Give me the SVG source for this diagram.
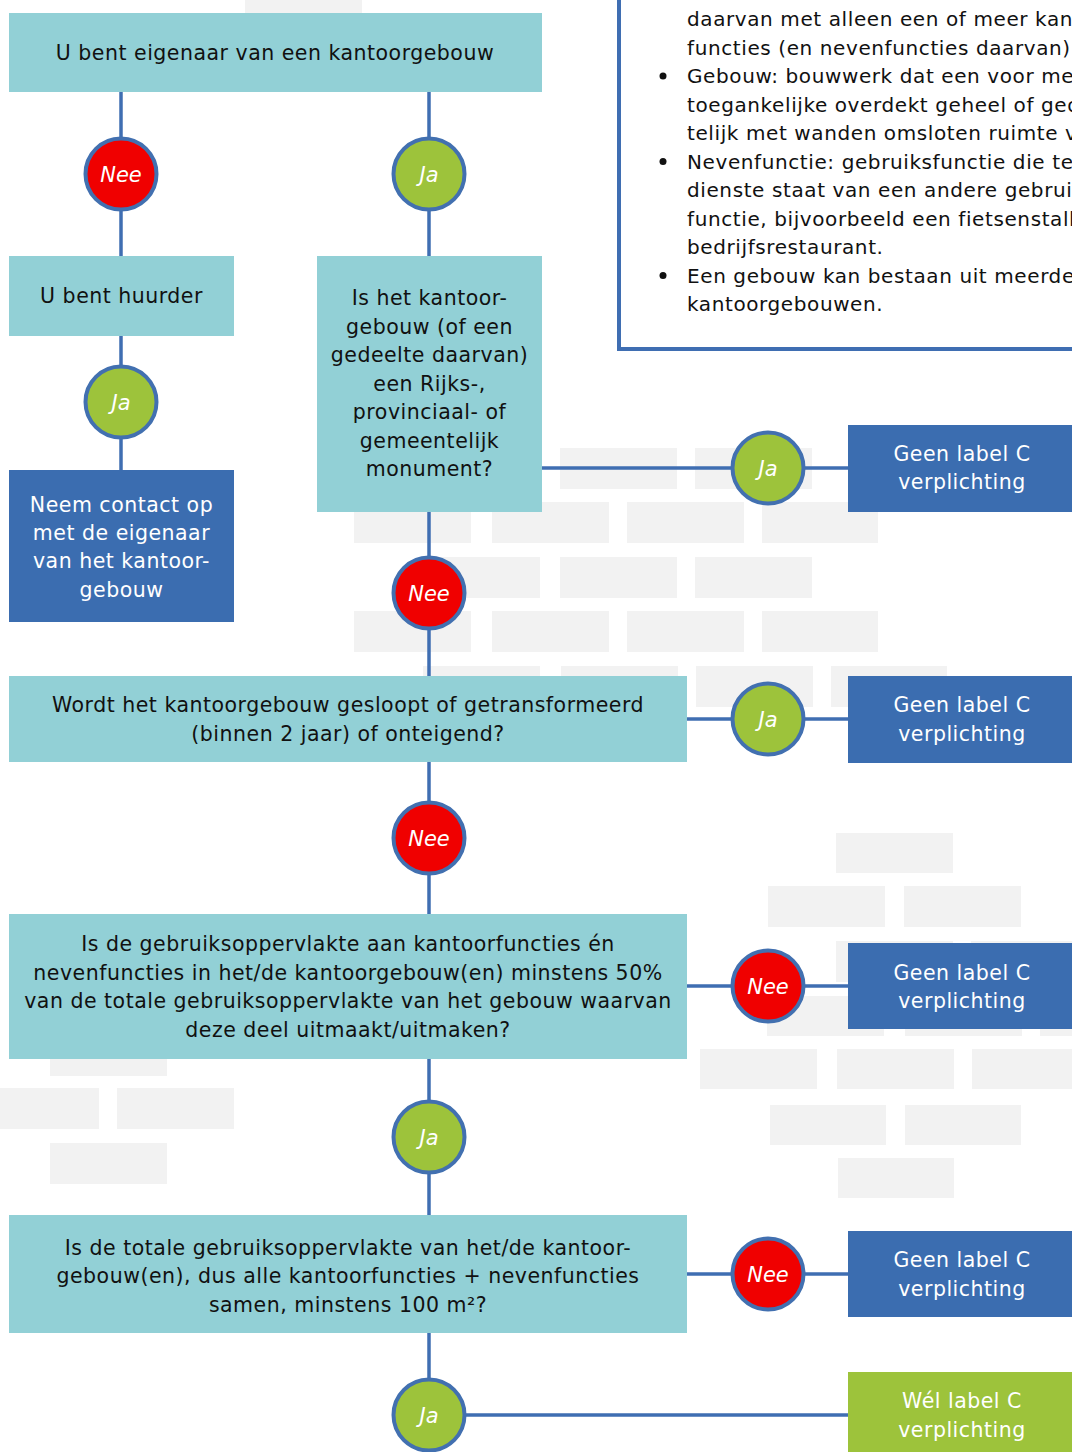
<svg xmlns="http://www.w3.org/2000/svg" width="1072" height="1452" viewBox="0 0 1072 1452">
<style>
.bg{fill:#ffffff}
.brick{fill:#f2f2f2}
.q{fill:#92d0d6}
.out{fill:#3b6db0}
.ok{fill:#9dc33b}
.t{font-family:"DejaVu Sans",Verdana,sans-serif;font-size:20.5px;letter-spacing:0.5px;text-anchor:middle}
.dark{fill:#111111}
.light{fill:#ffffff}
.c{stroke:#4270b0;stroke-width:4}
.nee{fill:#f00000}
.ja{fill:#9dc33b}
.ct{font-family:"DejaVu Sans",Verdana,sans-serif;font-size:21px;font-style:italic;text-anchor:middle;fill:#ffffff}
.con{stroke:#3f6eb2;stroke-width:3.5;fill:none}
.info{fill:#ffffff;stroke:#3f6eb2;stroke-width:4}
.it{font-family:"DejaVu Sans",Verdana,sans-serif;font-size:20px;letter-spacing:0.6px;fill:#111111}
</style>
<rect class="bg" x="0" y="0" width="1072" height="1452"/>
<g id="bricks">
<rect class="brick" x="245" y="0" width="117" height="14"/>
<rect class="brick" x="560" y="448" width="117" height="41"/>
<rect class="brick" x="695" y="448" width="117" height="41"/>
<rect class="brick" x="354" y="502" width="117" height="41"/>
<rect class="brick" x="492" y="502" width="117" height="41"/>
<rect class="brick" x="627" y="502" width="117" height="41"/>
<rect class="brick" x="762" y="502" width="116" height="41"/>
<rect class="brick" x="423" y="557" width="117" height="41"/>
<rect class="brick" x="560" y="557" width="117" height="41"/>
<rect class="brick" x="695" y="557" width="117" height="41"/>
<rect class="brick" x="354" y="611" width="117" height="41"/>
<rect class="brick" x="492" y="611" width="117" height="41"/>
<rect class="brick" x="627" y="611" width="117" height="41"/>
<rect class="brick" x="762" y="611" width="116" height="41"/>
<rect class="brick" x="423" y="666" width="117" height="41"/>
<rect class="brick" x="561" y="666" width="117" height="41"/>
<rect class="brick" x="696" y="666" width="117" height="41"/>
<rect class="brick" x="831" y="666" width="116" height="41"/>
<rect class="brick" x="836" y="833" width="117" height="40"/>
<rect class="brick" x="768" y="886" width="117" height="41"/>
<rect class="brick" x="904" y="886" width="117" height="41"/>
<rect class="brick" x="836" y="941" width="117" height="41"/>
<rect class="brick" x="971" y="941" width="101" height="41"/>
<rect class="brick" x="767" y="996" width="117" height="40"/>
<rect class="brick" x="905" y="996" width="117" height="40"/>
<rect class="brick" x="1040" y="996" width="32" height="40"/>
<rect class="brick" x="700" y="1049" width="117" height="40"/>
<rect class="brick" x="837" y="1049" width="117" height="40"/>
<rect class="brick" x="972" y="1049" width="100" height="40"/>
<rect class="brick" x="770" y="1105" width="116" height="40"/>
<rect class="brick" x="905" y="1105" width="116" height="40"/>
<rect class="brick" x="838" y="1158" width="116" height="40"/>
<rect class="brick" x="50" y="1035" width="117" height="41"/>
<rect class="brick" x="0" y="1088" width="99" height="41"/>
<rect class="brick" x="117" y="1088" width="117" height="41"/>
<rect class="brick" x="50" y="1143" width="117" height="41"/>
</g>
<g id="info">
<rect class="info" x="619" y="-10" width="470" height="359"/>
<text class="it" x="687" y="26">daarvan met alleen een of meer kantoor-</text>
<text class="it" x="687" y="54.5">functies (en nevenfuncties daarvan).</text>
<circle cx="663" cy="76" r="3.5" fill="#111111"/>
<text class="it" x="687" y="83">Gebouw: bouwwerk dat een voor mensen</text>
<text class="it" x="687" y="111.5">toegankelijke overdekt geheel of gedeel-</text>
<text class="it" x="687" y="140">telijk met wanden omsloten ruimte vormt.</text>
<circle cx="663" cy="161.5" r="3.5" fill="#111111"/>
<text class="it" x="687" y="168.5">Nevenfunctie: gebruiksfunctie die ten</text>
<text class="it" x="687" y="197">dienste staat van een andere gebruiks-</text>
<text class="it" x="687" y="225.5">functie, bijvoorbeeld een fietsenstalling of</text>
<text class="it" x="687" y="254">bedrijfsrestaurant.</text>
<circle cx="663" cy="275.5" r="3.5" fill="#111111"/>
<text class="it" x="687" y="282.5">Een gebouw kan bestaan uit meerdere</text>
<text class="it" x="687" y="311">kantoorgebouwen.</text>
</g>
<g id="connectors">
<line class="con" x1="121" y1="92" x2="121" y2="256"/>
<line class="con" x1="429" y1="92" x2="429" y2="256"/>
<line class="con" x1="121" y1="336" x2="121" y2="470"/>
<line class="con" x1="542" y1="468" x2="848" y2="468"/>
<line class="con" x1="429" y1="512" x2="429" y2="676"/>
<line class="con" x1="687" y1="719" x2="848" y2="719"/>
<line class="con" x1="429" y1="762" x2="429" y2="914"/>
<line class="con" x1="687" y1="986" x2="848" y2="986"/>
<line class="con" x1="429" y1="1059" x2="429" y2="1215"/>
<line class="con" x1="687" y1="1274" x2="848" y2="1274"/>
<line class="con" x1="429" y1="1333" x2="429" y2="1390"/>
<line class="con" x1="440" y1="1415" x2="848" y2="1415"/>
</g>
<g id="n-eigenaar">
<rect class="q" x="9" y="13" width="533" height="79"/>
<text class="t dark" x="275" y="60">U bent eigenaar van een kantoorgebouw</text>
</g>
<g id="c-nee1"><circle class="c nee" cx="121" cy="174" r="35.5"/><text class="ct" x="121" y="181.5">Nee</text></g>
<g id="c-ja1"><circle class="c ja" cx="429" cy="174" r="35.5"/><text class="ct" x="429" y="181.5">Ja</text></g>
<g id="n-huurder">
<rect class="q" x="9" y="256" width="225" height="80"/>
<text class="t dark" x="121.5" y="303">U bent huurder</text>
</g>
<g id="c-ja2"><circle class="c ja" cx="121" cy="402" r="35.5"/><text class="ct" x="121" y="409.5">Ja</text></g>
<g id="n-contact">
<rect class="out" x="9" y="470" width="225" height="152"/>
<text class="t light" x="121.5" y="511.5">Neem contact op</text>
<text class="t light" x="121.5" y="540">met de eigenaar</text>
<text class="t light" x="121.5" y="568">van het kantoor-</text>
<text class="t light" x="121.5" y="596.5">gebouw</text>
</g>
<g id="n-monument">
<rect class="q" x="317" y="256" width="225" height="256"/>
<text class="t dark" x="429.5" y="305">Is het kantoor-</text>
<text class="t dark" x="429.5" y="333.5">gebouw (of een</text>
<text class="t dark" x="429.5" y="362">gedeelte daarvan)</text>
<text class="t dark" x="429.5" y="390.5">een Rijks-,</text>
<text class="t dark" x="429.5" y="419">provinciaal- of</text>
<text class="t dark" x="429.5" y="447.5">gemeentelijk</text>
<text class="t dark" x="429.5" y="476">monument?</text>
</g>
<g id="c-ja3"><circle class="c ja" cx="768" cy="468" r="35.5"/><text class="ct" x="768" y="475.5">Ja</text></g>
<g id="r-geen1">
<rect class="out" x="848" y="425" width="226" height="87"/>
<text class="t light" x="962" y="460.5">Geen label C</text>
<text class="t light" x="962" y="489">verplichting</text>
</g>
<g id="c-nee2"><circle class="c nee" cx="429" cy="593" r="35.5"/><text class="ct" x="429" y="600.5">Nee</text></g>
<g id="n-gesloopt">
<rect class="q" x="9" y="676" width="678" height="86"/>
<text class="t dark" x="348" y="712">Wordt het kantoorgebouw gesloopt of getransformeerd</text>
<text class="t dark" x="348" y="740.5">(binnen 2 jaar) of onteigend?</text>
</g>
<g id="c-ja4"><circle class="c ja" cx="768" cy="719" r="35.5"/><text class="ct" x="768" y="726.5">Ja</text></g>
<g id="r-geen2">
<rect class="out" x="848" y="676" width="226" height="87"/>
<text class="t light" x="962" y="712">Geen label C</text>
<text class="t light" x="962" y="740.5">verplichting</text>
</g>
<g id="c-nee3"><circle class="c nee" cx="429" cy="838" r="35.5"/><text class="ct" x="429" y="845.5">Nee</text></g>
<g id="n-vijftig">
<rect class="q" x="9" y="914" width="678" height="145"/>
<text class="t dark" x="348" y="951">Is de gebruiksoppervlakte aan kantoorfuncties én</text>
<text class="t dark" x="348" y="979.5">nevenfuncties in het/de kantoorgebouw(en) minstens 50%</text>
<text class="t dark" x="348" y="1008">van de totale gebruiksoppervlakte van het gebouw waarvan</text>
<text class="t dark" x="348" y="1036.5">deze deel uitmaakt/uitmaken?</text>
</g>
<g id="c-nee4"><circle class="c nee" cx="768" cy="986" r="35.5"/><text class="ct" x="768" y="993.5">Nee</text></g>
<g id="r-geen3">
<rect class="out" x="848" y="943" width="226" height="86"/>
<text class="t light" x="962" y="979.5">Geen label C</text>
<text class="t light" x="962" y="1008">verplichting</text>
</g>
<g id="c-ja5"><circle class="c ja" cx="429" cy="1137" r="35.5"/><text class="ct" x="429" y="1144.5">Ja</text></g>
<g id="n-honderd">
<rect class="q" x="9" y="1215" width="678" height="118"/>
<text class="t dark" x="348" y="1254.5">Is de totale gebruiksoppervlakte van het/de kantoor-</text>
<text class="t dark" x="348" y="1283">gebouw(en), dus alle kantoorfuncties + nevenfuncties</text>
<text class="t dark" x="348" y="1311.5">samen, minstens 100 m²?</text>
</g>
<g id="c-nee5"><circle class="c nee" cx="768" cy="1274" r="35.5"/><text class="ct" x="768" y="1281.5">Nee</text></g>
<g id="r-geen4">
<rect class="out" x="848" y="1231" width="226" height="86"/>
<text class="t light" x="962" y="1267">Geen label C</text>
<text class="t light" x="962" y="1295.5">verplichting</text>
</g>
<g id="c-ja6"><circle class="c ja" cx="429" cy="1415" r="35.5"/><text class="ct" x="429" y="1422.5">Ja</text></g>
<g id="r-wel">
<rect class="ok" x="848" y="1372" width="226" height="86"/>
<text class="t light" x="962" y="1408">Wél label C</text>
<text class="t light" x="962" y="1436.5">verplichting</text>
</g>
</svg>
